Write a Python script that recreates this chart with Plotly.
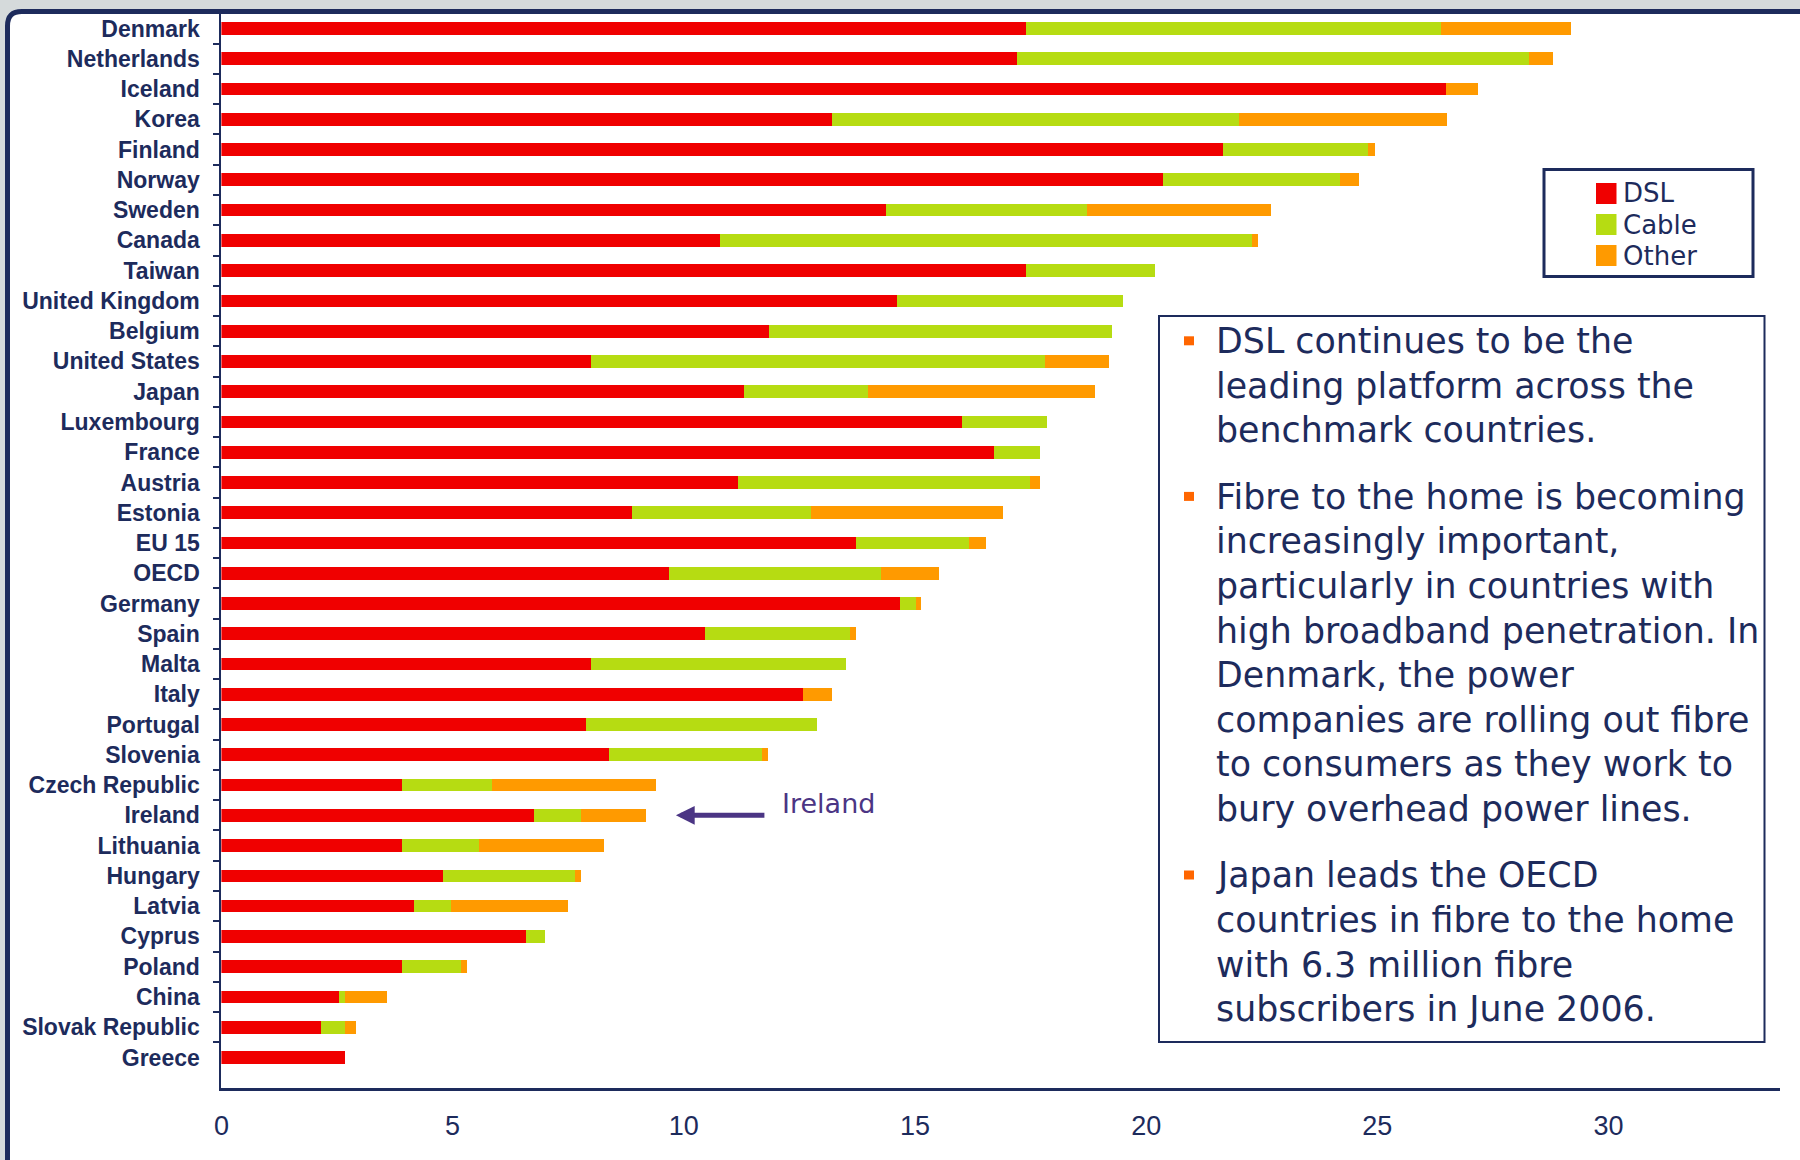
import plotly.graph_objects as go

# Broadband subscribers per 100 inhabitants by technology
countries = [
    "Denmark", "Netherlands", "Iceland", "Korea", "Finland", "Norway", "Sweden",
    "Canada", "Taiwan", "United Kingdom", "Belgium", "United States", "Japan",
    "Luxembourg", "France", "Austria", "Estonia", "EU 15", "OECD", "Germany",
    "Spain", "Malta", "Italy", "Portugal", "Slovenia", "Czech Republic",
    "Ireland", "Lithuania", "Hungary", "Latvia", "Cyprus", "Poland", "China",
    "Slovak Republic", "Greece",
]
dsl = [
    17.40, 17.20, 26.48, 13.21, 21.66, 20.37, 14.38,
    10.79, 17.41, 14.61, 11.84, 8.00, 11.31,
    16.02, 16.72, 11.17, 8.88, 13.72, 9.67, 14.68,
    10.46, 8.00, 12.58, 7.89, 8.38, 3.91,
    6.77, 3.90, 4.80, 4.16, 6.58, 3.90, 2.55,
    2.15, 2.67,
]
cable = [
    8.98, 11.08, 0.00, 8.79, 3.13, 3.83, 4.33,
    11.49, 2.79, 4.89, 7.42, 9.81, 2.68,
    1.84, 0.99, 6.32, 3.87, 2.45, 4.60, 0.35,
    3.14, 5.51, 0.00, 4.99, 3.32, 1.95,
    1.01, 1.68, 2.85, 0.81, 0.42, 1.28, 0.12,
    0.52, 0.00,
]
other = [
    2.81, 0.52, 0.69, 4.50, 0.17, 0.40, 3.98,
    0.13, 0.00, 0.00, 0.00, 1.38, 4.90,
    0.00, 0.00, 0.21, 4.15, 0.36, 1.26, 0.10,
    0.12, 0.00, 0.63, 0.00, 0.12, 3.55,
    1.41, 2.69, 0.12, 2.53, 0.00, 0.14, 0.91,
    0.24, 0.00,
]
x_ticks = [0, 5, 10, 15, 20, 25, 30]
series_names = ["DSL", "Cable", "Other"]
series_colors = ["#f00000", "#b6dc12", "#ff9a00"]

highlight = "Ireland"

notes = [
    ["DSL continues to be the",
     "leading platform across the",
     "benchmark countries."],
    ["Fibre to the home is becoming",
     "increasingly important,",
     "particularly in countries with",
     "high broadband penetration. In",
     "Denmark, the power",
     "companies are rolling out fibre",
     "to consumers as they work to",
     "bury overhead power lines."],
    ["Japan leads the OECD",
     "countries in fibre to the home",
     "with 6.3 million fibre",
     "subscribers in June 2006."],
]

W, H = 1800, 1160
NAVY = "#1d2b5c"
PURPLE = "#4b3584"
BODY_FONT = "DejaVu Sans, Verdana, sans-serif"
LABEL_FONT = "Liberation Sans, Arial, sans-serif"


def px(x):
    return x / W


def py(y):
    return 1 - y / H


fig = go.Figure()
for name, vals, col in zip(series_names, [dsl, cable, other], series_colors):
    fig.add_trace(go.Bar(
        y=countries, x=vals, name=name, orientation="h",
        marker=dict(color=col, line=dict(width=0)),
        showlegend=False,
    ))

shapes = []
annotations = []

# slide panel: white area framed by a navy rule on the top and left
r = 0.008
shapes.append(dict(
    type="path", xref="paper", yref="paper", layer="below",
    path=(f"M {px(7.5)},{py(1175)} L {px(7.5)},{py(11.5) - r * 1.55} "
          f"Q {px(7.5)},{py(11.5)} {px(7.5) + r},{py(11.5)} "
          f"L {px(1815)},{py(11.5)} L {px(1815)},{py(1175)} Z"),
    fillcolor="white", line=dict(color=NAVY, width=5),
))

# legend box
shapes.append(dict(type="rect", xref="paper", yref="paper",
                   x0=px(1544), x1=px(1753), y0=py(169.5), y1=py(276.5),
                   fillcolor="white", line=dict(color=NAVY, width=3)))
for i, (name, col) in enumerate(zip(series_names, series_colors)):
    cy = 193.5 + i * 31
    shapes.append(dict(type="rect", xref="paper", yref="paper",
                       x0=px(1596), x1=px(1616.5), y0=py(cy - 10.5), y1=py(cy + 10.5),
                       fillcolor=col, line=dict(width=0)))
    annotations.append(dict(xref="paper", yref="paper", x=px(1621), y=py(cy),
                            xanchor="left", yanchor="middle", showarrow=False,
                            text=name, font=dict(family=BODY_FONT, size=26, color=NAVY)))

# commentary box
shapes.append(dict(type="rect", xref="paper", yref="paper",
                   x0=px(1159), x1=px(1764.5), y0=py(316), y1=py(1042),
                   fillcolor="white", line=dict(color=NAVY, width=2)))
line_step = 44.6
para_gap = 21.8
base = 353.3
fs = 34.8
for para in notes:
    shapes.append(dict(type="rect", xref="paper", yref="paper",
                       x0=px(1184), x1=px(1194), y0=py(base - 17), y1=py(base - 8),
                       fillcolor="#ff6600", line=dict(width=0)))
    for line in para:
        annotations.append(dict(xref="paper", yref="paper", x=px(1214), y=py(base - 0.35 * fs),
                                xanchor="left", yanchor="middle", showarrow=False,
                                text=line, font=dict(family=BODY_FONT, size=fs, color=NAVY)))
        base += line_step
    base += para_gap

# pointer to the highlighted country
hi = countries.index(highlight)
hi_total = dsl[hi] + cable[hi] + other[hi]
annotations.append(dict(xref="x", yref="y", x=hi_total + 0.64, y=highlight,
                        ax=90, ay=0, axref="pixel", ayref="pixel",
                        text="", showarrow=True, arrowhead=2, arrowsize=0.75,
                        arrowwidth=5, arrowcolor=PURPLE))
annotations.append(dict(xref="x", yref="y", x=hi_total + 2.9, y=highlight,
                        yshift=12, xanchor="left", yanchor="middle", showarrow=False,
                        text=highlight, font=dict(family=BODY_FONT, size=27, color=PURPLE)))

fig.update_layout(
    width=W, height=H,
    margin=dict(l=0, r=0, t=0, b=0, pad=0, autoexpand=False),
    paper_bgcolor="#d5dadb",
    plot_bgcolor="white",
    barmode="stack",
    bargap=0.58,
    shapes=shapes,
    annotations=annotations,
    xaxis=dict(
        domain=[px(221.4), px(1779.6)],
        range=[0, 33.7],
        tickvals=x_ticks,
        ticks="",
        automargin=False,
        showgrid=False, zeroline=False,
        showline=True, linecolor=NAVY, linewidth=3,
        tickfont=dict(family=LABEL_FONT, size=27, color=NAVY),
        ticklabelstandoff=12,
    ),
    yaxis=dict(
        domain=[py(1087.7), py(13.4)],
        categoryorder="array", categoryarray=countries,
        range=[len(countries), -0.5],
        automargin=False,
        showgrid=False, zeroline=False,
        showline=True, linecolor=NAVY, linewidth=2,
        ticks="outside", tickson="boundaries", ticklen=6, tickwidth=2, tickcolor=NAVY,
        tickfont=dict(family=LABEL_FONT, size=23, color=NAVY, weight="bold"),
        ticklabelstandoff=15,
    ),
)

fig.write_html("out.html")
